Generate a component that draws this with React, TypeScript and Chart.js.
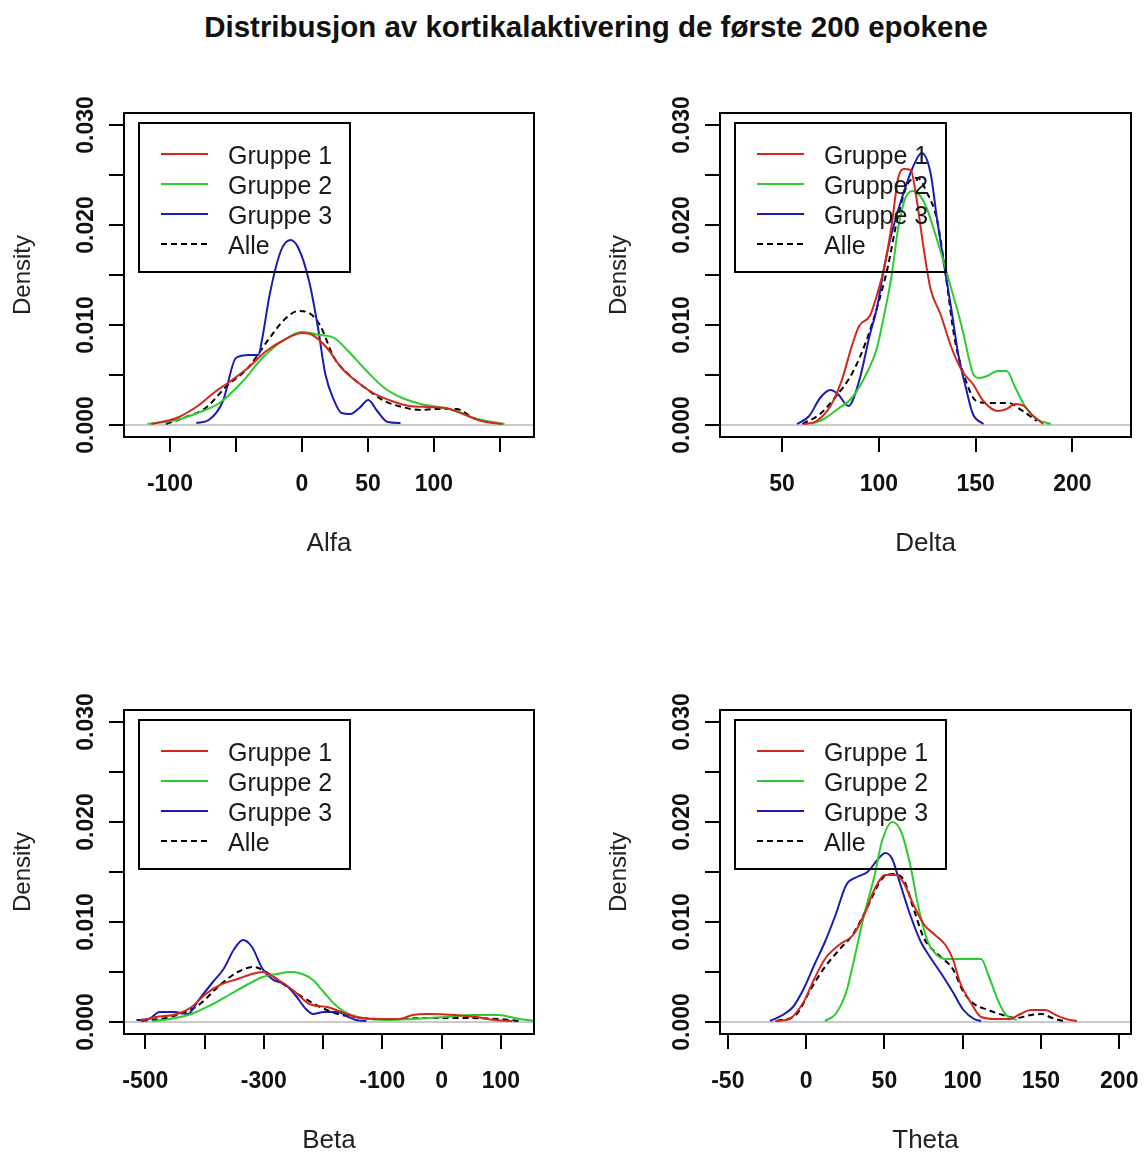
import React, { useEffect, useRef } from 'react';
import { Chart, registerables } from 'chart.js';

Chart.register(...registerables);

const FONT = '"Liberation Sans", Arial, Helvetica, sans-serif';

// ---------- shared ----------
const groupLabels = ['Gruppe 1', 'Gruppe 2', 'Gruppe 3', 'Alle'];
const groupColors = ['#d4271d', '#2ecb2e', '#1c1cb2', '#000000'];
const yTicks = [0, 0.005, 0.01, 0.015, 0.02, 0.025, 0.03];
const yTickLabels = ['0.000', '', '0.010', '', '0.020', '', '0.030'];
const yMin = -0.0012;
const yMax = 0.0312;

// ---------- Alfa ----------
const alfaX1 = [-114, -95, -79, -65, -54, -41, -27, -13.6, 0, 8, 19, 30, 41, 54, 68, 81.5, 95, 109, 122, 136, 152];
const alfaY1 = [0.0001, 0.0007, 0.0019, 0.0034, 0.0044, 0.0057, 0.0074, 0.0085, 0.0092, 0.009, 0.0077, 0.0057, 0.0044, 0.0032, 0.0024, 0.0019, 0.0018, 0.0017, 0.0011, 0.0004, 0.0001];
const alfaX2 = [-117, -95, -79, -62.5, -46, -30, -13.6, 0, 13.6, 24.5, 35, 49, 62.5, 76, 90, 103, 117, 130, 153.5];
const alfaY2 = [0.0001, 0.0005, 0.0012, 0.0022, 0.0042, 0.0067, 0.0085, 0.0093, 0.009, 0.0087, 0.0074, 0.0054, 0.0037, 0.0027, 0.0021, 0.0018, 0.0014, 0.0007, 0.0001];
const alfaX3 = [-80, -70.6, -59.8, -50, -40, -33, -30, -24.5, -16, -8.7, -2.7, 5.4, 12.2, 17.7, 24.5, 29.9, 36.7, 43.5, 50.3, 57, 65, 74.7];
const alfaY3 = [0.0002, 0.0005, 0.0024, 0.0067, 0.007, 0.007, 0.0087, 0.013, 0.0174, 0.0185, 0.0177, 0.0144, 0.0097, 0.0051, 0.0024, 0.0012, 0.0011, 0.0017, 0.0025, 0.0014, 0.0003, 0.0002];
const alfaX4 = [-103, -90, -73, -57, -41, -24.5, -13.6, -2.7, 5.4, 13.6, 24.5, 35, 49, 62.5, 76, 90, 100.5, 117, 130, 144];
const alfaY4 = [0.0001, 0.0007, 0.0017, 0.0039, 0.0057, 0.0087, 0.0105, 0.0114, 0.0112, 0.01, 0.0067, 0.0051, 0.0036, 0.0024, 0.0018, 0.0015, 0.0016, 0.0016, 0.0007, 0.0002];
const alfaTicks = [-100, -50, 0, 50, 100, 150];
const alfaTickLabels = ['-100', '', '0', '50', '100', ''];

// ---------- Delta ----------
const deltaX1 = [61.4, 67.8, 75, 80.7, 86.2, 89.8, 95.3, 99, 102.7, 106.4, 110, 112.8, 116.5, 119.2, 122.9, 126.6, 132, 137.6, 143, 148.6, 154, 161.4, 166, 170.6, 175, 179.8, 185];
const deltaY1 = [0.0001, 0.0004, 0.0019, 0.0044, 0.008, 0.0099, 0.0109, 0.013, 0.0157, 0.0197, 0.0247, 0.0256, 0.0255, 0.023, 0.018, 0.0137, 0.011, 0.0077, 0.0054, 0.0041, 0.0024, 0.0014, 0.0016, 0.0021, 0.0019, 0.0009, 0.0001];
const deltaX2 = [65, 71.5, 78.8, 86, 93.5, 99, 102.7, 106.4, 110, 113.7, 117.4, 121, 124.7, 129.3, 134, 137.6, 141, 143.5, 146.7, 149, 152, 156, 161.4, 166, 170.6, 176, 181.6, 189];
const deltaY2 = [0.0001, 0.0006, 0.0016, 0.0027, 0.0051, 0.0077, 0.011, 0.0147, 0.0197, 0.0227, 0.0234, 0.023, 0.0217, 0.019, 0.016, 0.0135, 0.0112, 0.0093, 0.0065, 0.005, 0.0047, 0.0049, 0.0054, 0.0054, 0.0037, 0.0017, 0.0006, 0.0001];
const deltaX3 = [57.7, 64, 69.6, 75, 78.8, 84.3, 89.8, 95.3, 99, 102.7, 106.4, 111.9, 117.4, 122.1, 126.6, 130.2, 134, 137.6, 141, 145, 148.6, 154];
const deltaY3 = [0.0001, 0.0009, 0.0027, 0.0035, 0.0031, 0.0019, 0.0044, 0.009, 0.0117, 0.0157, 0.019, 0.0227, 0.0257, 0.0272, 0.0253, 0.0204, 0.0157, 0.0114, 0.0071, 0.0037, 0.0011, 0.0001];
const deltaX4 = [60.5, 69.6, 78.8, 86, 93.5, 99, 104.5, 110, 115.5, 120, 124.7, 130.2, 134, 139.4, 145, 150.4, 157.8, 167, 174.3, 181.6];
const deltaY4 = [0.0001, 0.0011, 0.0031, 0.0051, 0.0084, 0.0117, 0.0157, 0.021, 0.0243, 0.0247, 0.0233, 0.0204, 0.0157, 0.0084, 0.0044, 0.0024, 0.0022, 0.0022, 0.0014, 0.0004];
const deltaTicks = [50, 100, 150, 200];
const deltaTickLabels = ['50', '100', '150', '200'];

// ---------- Beta ----------
const betaX1 = [-509, -482, -446, -422, -398, -374, -344, -320, -302, -278, -247, -223, -193, -169, -145, -109, -73, -49, -25, 23, 59, 89, 119];
const betaY1 = [0.0001, 0.0005, 0.0008, 0.0015, 0.0028, 0.0037, 0.0043, 0.0048, 0.005, 0.0043, 0.003, 0.0018, 0.0015, 0.001, 0.0005, 0.0003, 0.0003, 0.0007, 0.0008, 0.0007, 0.0005, 0.0002, 0.0001];
const betaX2 = [-488, -458, -422, -386, -356, -326, -302, -278, -253, -235, -217, -199, -181, -157, -121, -85, -49, 5, 53, 95, 131, 155];
const betaY2 = [0.0001, 0.0003, 0.0008, 0.0018, 0.0028, 0.0038, 0.0045, 0.0048, 0.005, 0.0048, 0.0042, 0.003, 0.0018, 0.0008, 0.0003, 0.0002, 0.0003, 0.0005, 0.0007, 0.0007, 0.0003, 0.0001];
const betaX3 = [-515, -494, -476, -452, -428, -410, -386, -368, -350, -335, -320, -302, -284, -265, -247, -229, -217, -199, -175, -157, -145, -127];
const betaY3 = [0.0002, 0.0003, 0.001, 0.001, 0.0008, 0.0022, 0.004, 0.0053, 0.0073, 0.0082, 0.0075, 0.0053, 0.0042, 0.0038, 0.0027, 0.0013, 0.0008, 0.001, 0.001, 0.0005, 0.0002, 0.0001];
const betaX4 = [-506, -458, -410, -374, -344, -317, -296, -265, -235, -205, -175, -133, -85, -25, 35, 95, 131];
const betaY4 = [0.0001, 0.0005, 0.0017, 0.0037, 0.005, 0.0055, 0.005, 0.0037, 0.0025, 0.0015, 0.0008, 0.0004, 0.0003, 0.0004, 0.0004, 0.0003, 0.0001];
const betaTicks = [-500, -400, -300, -200, -100, 0, 100];
const betaTickLabels = ['-500', '', '-300', '', '-100', '0', '100'];

// ---------- Theta ----------
const thetaX1 = [-19.7, -10.7, -1.6, 5.2, 12, 21, 30, 37, 43.8, 50.6, 57.4, 62, 68.7, 75.5, 82.4, 89, 93.7, 98.2, 105, 111.8, 121, 130, 136.8, 143.6, 152.7, 159.5, 166, 173];
const thetaY1 = [0.0001, 0.0003, 0.002, 0.0043, 0.0063, 0.0077, 0.0087, 0.0107, 0.0133, 0.0147, 0.0147, 0.014, 0.0117, 0.0097, 0.0087, 0.0077, 0.0063, 0.004, 0.002, 0.0005, 0.0003, 0.0003, 0.0008, 0.0012, 0.0012, 0.0007, 0.0003, 0.0001];
const thetaX2 = [12, 18.8, 25.6, 31.3, 37, 43.8, 48.3, 55, 60.8, 66.5, 72, 77.8, 83.5, 89, 96, 102.8, 111.8, 116.4, 123, 127.7, 134.5];
const thetaY2 = [0.0001, 0.0008, 0.003, 0.0067, 0.0107, 0.0147, 0.018, 0.02, 0.019, 0.0157, 0.0113, 0.008, 0.0067, 0.0063, 0.0063, 0.0063, 0.0063, 0.0047, 0.002, 0.0007, 0.0002];
const thetaX3 = [-23, -15, -8.4, -1.6, 5.2, 12, 18.8, 25.6, 32.4, 39.2, 46, 50.6, 55, 59.7, 66.5, 73.3, 80, 86.9, 93.7, 100.5, 107.3, 111.8];
const thetaY3 = [0.0001, 0.0007, 0.0015, 0.0033, 0.0057, 0.008, 0.0107, 0.0137, 0.0145, 0.015, 0.0163, 0.0169, 0.0163, 0.014, 0.0107, 0.008, 0.0063, 0.0047, 0.003, 0.0012, 0.0003, 0.0001];
const thetaX4 = [-18.6, -6, 3, 12, 21, 30, 39.2, 48.3, 55, 62, 68.7, 75.5, 84.6, 93.7, 100.5, 107.3, 116.4, 125.5, 134.5, 143.6, 150.4, 157.2, 164];
const thetaY4 = [0.0001, 0.0008, 0.0033, 0.0055, 0.0072, 0.0088, 0.0115, 0.0143, 0.0148, 0.0143, 0.0113, 0.0083, 0.0067, 0.0053, 0.003, 0.0018, 0.0012, 0.0007, 0.0004, 0.0007, 0.0008, 0.0004, 0.0001];
const thetaTicks = [-50, 0, 50, 100, 150, 200];
const thetaTickLabels = ['-50', '0', '50', '100', '150', '200'];

type PanelProps = {
  title: string;
  xs: number[][];
  ys: number[][];
  xMin: number;
  xMax: number;
  xTicks: number[];
  xTickLabels: string[];
  left: number;
  top: number;
  width: number;
  height: number;
  axisW: number;
  axisH: number;
  padTop: number;
  padRight: number;
};

const rPlugin = {
  id: 'rstyle',
  beforeDatasetsDraw(chart: any) {
    const { ctx, chartArea: ca, scales } = chart;
    const y0 = scales.y.getPixelForValue(0);
    ctx.save();
    ctx.strokeStyle = '#b9b9b9';
    ctx.lineWidth = 1.5;
    ctx.beginPath();
    ctx.moveTo(ca.left, y0);
    ctx.lineTo(ca.right, y0);
    ctx.stroke();
    ctx.restore();
  },
  afterDraw(chart: any, _args: any, opts: any) {
    const { ctx, chartArea: ca, scales } = chart;
    const xs = scales.x;
    const ys = scales.y;
    ctx.save();
    // box
    ctx.strokeStyle = '#000';
    ctx.lineWidth = 2;
    ctx.strokeRect(ca.left, ca.top, ca.right - ca.left, ca.bottom - ca.top);

    // legend
    const lx = ca.left + 15;
    const ly = ca.top + 10;
    ctx.strokeRect(lx, ly, 211, 149);
    ctx.font = '25px ' + FONT;
    ctx.textAlign = 'left';
    ctx.textBaseline = 'middle';
    chart.data.datasets.forEach((ds: any, i: number) => {
      const yy = ly + 31 + i * 30;
      ctx.strokeStyle = ds.borderColor;
      ctx.lineWidth = 2;
      ctx.setLineDash(ds.borderDash || []);
      ctx.beginPath();
      ctx.moveTo(lx + 22, yy);
      ctx.lineTo(lx + 69, yy);
      ctx.stroke();
      ctx.setLineDash([]);
      ctx.fillStyle = '#1a1a1a';
      ctx.fillText(ds.label, lx + 89, yy + 3);
    });

    // x tick labels
    ctx.fillStyle = '#111';
    ctx.font = 'bold 23px ' + FONT;
    ctx.textAlign = 'center';
    ctx.textBaseline = 'middle';
    opts.xTicks.forEach((v: number, i: number) => {
      const lab = opts.xTickLabels[i];
      if (lab) ctx.fillText(lab, xs.getPixelForValue(v), ca.bottom + 48);
    });
    // y tick labels (rotated)
    yTicks.forEach((v, i) => {
      const lab = yTickLabels[i];
      if (!lab) return;
      ctx.save();
      ctx.translate(ca.left - 37, ys.getPixelForValue(v));
      ctx.rotate(-Math.PI / 2);
      ctx.fillText(lab, 0, 0);
      ctx.restore();
    });
    // axis titles
    ctx.font = '26px ' + FONT;
    ctx.fillStyle = '#222';
    ctx.fillText(opts.xTitle, (ca.left + ca.right) / 2, ca.bottom + 107);
    ctx.save();
    ctx.font = '24px ' + FONT;
    ctx.translate(ca.left - 101, (ca.top + ca.bottom) / 2);
    ctx.rotate(-Math.PI / 2);
    ctx.fillText('Density', 0, 0);
    ctx.restore();
    ctx.restore();
  },
};

function Panel(p: PanelProps) {
  const ref = useRef<HTMLCanvasElement | null>(null);
  useEffect(() => {
    if (!ref.current) return;
    const datasets = p.xs.map((xarr, gi) => ({
      label: groupLabels[gi],
      data: xarr.map((xv, k) => ({ x: xv, y: p.ys[gi][k] })),
      borderColor: groupColors[gi],
      borderWidth: 2,
      borderDash: gi === 3 ? [6, 4] : [],
      pointRadius: 0,
      fill: false,
      cubicInterpolationMode: 'monotone' as const,
    }));
    const chart = new Chart(ref.current, {
      type: 'line',
      data: { datasets },
      options: {
        responsive: false,
        animation: false,
        devicePixelRatio: 1,
        layout: { padding: { top: p.padTop, right: p.padRight, left: 0, bottom: 0 } },
        plugins: {
          legend: { display: false },
          tooltip: { enabled: false },
          rstyle: { xTicks: p.xTicks, xTickLabels: p.xTickLabels, xTitle: p.title },
        } as any,
        scales: {
          x: {
            type: 'linear',
            min: p.xMin,
            max: p.xMax,
            afterBuildTicks: (s: any) => {
              s.ticks = p.xTicks.map((v) => ({ value: v }));
            },
            afterFit: (s: any) => {
              s.height = p.axisH;
              s.paddingLeft = 0;
              s.paddingRight = 0;
            },
            ticks: { display: false },
            grid: { drawOnChartArea: false, drawTicks: true, tickLength: 15, color: '#000', lineWidth: 2 },
            border: { display: false },
          },
          y: {
            type: 'linear',
            min: yMin,
            max: yMax,
            afterBuildTicks: (s: any) => {
              s.ticks = yTicks.map((v) => ({ value: v }));
            },
            afterFit: (s: any) => {
              s.width = p.axisW;
              s.paddingTop = 0;
              s.paddingBottom = 0;
            },
            ticks: { display: false },
            grid: { drawOnChartArea: false, drawTicks: true, tickLength: 15, color: '#000', lineWidth: 2 },
            border: { display: false },
          },
        },
      },
      plugins: [rPlugin],
    });
    return () => chart.destroy();
  }, []);
  return (
    <canvas
      ref={ref}
      width={p.width}
      height={p.height}
      style={{ position: 'absolute', left: p.left, top: p.top, width: p.width, height: p.height }}
    />
  );
}

export default function App() {
  return (
    <div
      style={{
        position: 'absolute',
        left: 0,
        top: 0,
        width: 1147,
        height: 1153,
        background: '#fff',
        overflow: 'hidden',
      }}
    >
      <div
        style={{
          position: 'absolute',
          left: 46,
          top: 8,
          width: 1100,
          textAlign: 'center',
          font: 'bold 29.5px ' + FONT,
          lineHeight: '38px',
          color: '#111',
        }}
      >
        Distribusjon av kortikalaktivering de første 200 epokene
      </div>
      <Panel
        title="Alfa"
        xs={[alfaX1, alfaX2, alfaX3, alfaX4]}
        ys={[alfaY1, alfaY2, alfaY3, alfaY4]}
        xMin={-134.8}
        xMax={175.8}
        xTicks={alfaTicks}
        xTickLabels={alfaTickLabels}
        left={0}
        top={60}
        width={573}
        height={540}
        axisW={124}
        axisH={163}
        padTop={53}
        padRight={39}
      />
      <Panel
        title="Delta"
        xs={[deltaX1, deltaX2, deltaX3, deltaX4]}
        ys={[deltaY1, deltaY2, deltaY3, deltaY4]}
        xMin={17.9}
        xMax={230.3}
        xTicks={deltaTicks}
        xTickLabels={deltaTickLabels}
        left={596}
        top={60}
        width={551}
        height={540}
        axisW={124}
        axisH={163}
        padTop={53}
        padRight={16}
      />
      <Panel
        title="Beta"
        xs={[betaX1, betaX2, betaX3, betaX4]}
        ys={[betaY1, betaY2, betaY3, betaY4]}
        xMin={-536}
        xMax={156}
        xTicks={betaTicks}
        xTickLabels={betaTickLabels}
        left={0}
        top={657}
        width={573}
        height={496}
        axisW={124}
        axisH={119}
        padTop={53}
        padRight={39}
      />
      <Panel
        title="Theta"
        xs={[thetaX1, thetaX2, thetaX3, thetaX4]}
        ys={[thetaY1, thetaY2, thetaY3, thetaY4]}
        xMin={-55}
        xMax={207.5}
        xTicks={thetaTicks}
        xTickLabels={thetaTickLabels}
        left={596}
        top={657}
        width={551}
        height={496}
        axisW={124}
        axisH={119}
        padTop={53}
        padRight={16}
      />
    </div>
  );
}
